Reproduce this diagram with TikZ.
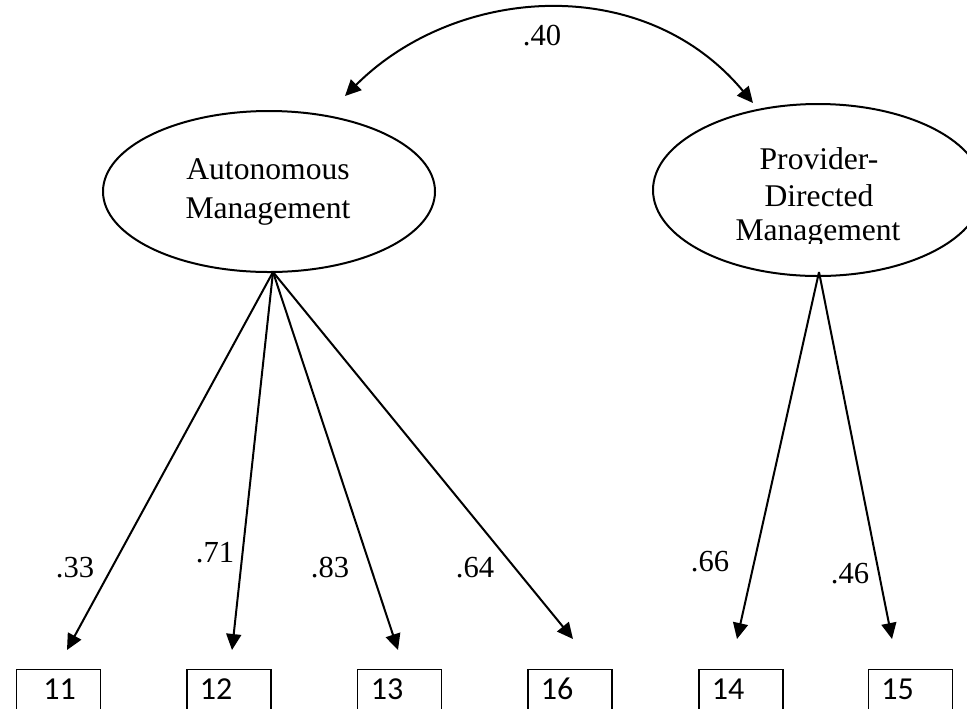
\documentclass[tikz,border=0pt]{standalone}
\usepackage{fontspec}
\setmainfont{Liberation Serif}
\newfontfamily\boxfont{Carlito}
\usetikzlibrary{arrows.meta,shapes.geometric}
\begin{document}
\begin{tikzpicture}[x=0.5pt,y=-0.5pt,
  latent/.style={ellipse, draw, line width=1pt, inner sep=0pt},
  lattext/.style={anchor=base, inner sep=0pt, font=\fontsize{15.8}{18}\selectfont},
  coef/.style={inner sep=0pt, font=\fontsize{15.3}{18}\selectfont},
  obsbox/.style={draw, line width=0.7pt, anchor=north, minimum width=42pt, minimum height=60pt, inner sep=0pt},
  boxlab/.style={inner sep=0pt, font=\boxfont\fontsize{16}{18}\selectfont},
  load/.style={line width=1pt, -{Triangle[length=8pt,width=7.5pt]}},
  corr/.style={line width=1pt, {Triangle[length=8pt,width=7.5pt]}-{Triangle[length=8pt,width=7.5pt]}}]
\useasboundingbox (0,0) rectangle (967,708);
\clip (0,0) rectangle (967,708);
% latent variables
\node[latent, minimum width=166pt, minimum height=80.5pt] (am) at (269,191.5) {};
\node[latent, minimum width=165pt, minimum height=86pt] (pdm) at (818,190) {};
\node[lattext] (amt1) at (268,179) {Autonomous};
\node[lattext] (amt2) at (268,218) {Management};
\begin{scope}
\clip (600,0) rectangle (967,243);
\node[lattext] (pdt1) at (819,169) {Provider-};
\node[lattext] (pdt2) at (819,206) {Directed};
\node[lattext] (pdt3) at (818,240) {Management};
\end{scope}
% observed boxes
\node[obsbox] (b11) at (58.5,669) {};
\node[obsbox] (b12) at (229,669) {};
\node[obsbox] (b13) at (399.5,669) {};
\node[obsbox] (b16) at (570,669) {};
\node[obsbox] (b14) at (741,669) {};
\node[obsbox] (b15) at (910.5,669) {};
\node[boxlab] (l11) at (59.5,689) {11};
\node[boxlab] (l12) at (216,689) {12};
\node[boxlab] (l13) at (387,689) {13};
\node[boxlab] (l16) at (557,689) {16};
\node[boxlab] (l14) at (728,689) {14};
\node[boxlab] (l15) at (897.5,689) {15};
% connector ends
\coordinate (ao) at (273,272);
\coordinate (po) at (819,272);
\coordinate (t11) at (67,650);
\coordinate (t12) at (232,650);
\coordinate (t13) at (398,650);
\coordinate (t16) at (573,639);
\coordinate (t14) at (737,639);
\coordinate (t15) at (892,639);
\coordinate (c1) at (345,96);
\coordinate (c2) at (753,103);
% loadings
\draw[load] (ao) -- (t11);
\draw[load] (ao) -- (t12);
\draw[load] (ao) -- (t13);
\draw[load] (ao) -- (t16);
\draw[load] (po) -- (t14);
\draw[load] (po) -- (t15);
% correlation
\draw[corr] (c1) .. controls (455,-14) and (643,-29) .. (c2);
% coefficients
\node[coef] (k40) at (542,36) {.40};
\node[coef] (k33) at (75,568) {.33};
\node[coef] (k71) at (215,553) {.71};
\node[coef] (k83) at (330,568) {.83};
\node[coef] (k64) at (475,568) {.64};
\node[coef] (k66) at (710,562) {.66};
\node[coef] (k46) at (850,574) {.46};
\end{tikzpicture}
\end{document}
